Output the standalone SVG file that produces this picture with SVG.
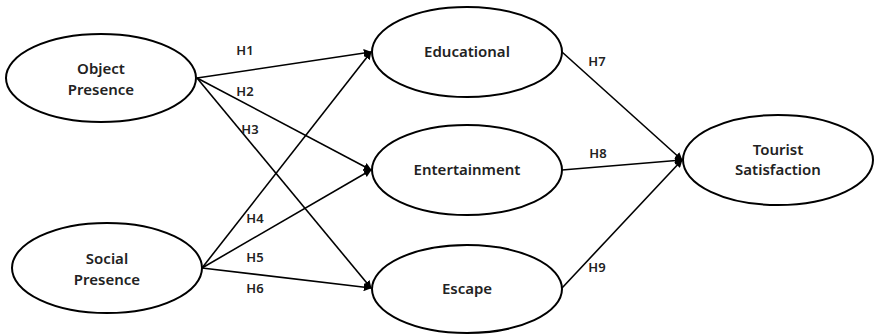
<svg xmlns="http://www.w3.org/2000/svg" width="874" height="336" viewBox="0 0 874 336">
<style>
.n{fill:#fff;stroke:#000;stroke-width:2}
.t{font-family:"Noto Sans","Open Sans",sans-serif;font-size:15px;font-weight:600;fill:#222;text-anchor:middle}
.l{font-family:"Noto Sans","Open Sans",sans-serif;font-size:13px;font-weight:600;fill:#222;text-anchor:middle}
.c{stroke:#000;stroke-width:1.6;fill:none;marker-end:url(#a)}
</style>
<defs>
<marker id="a" viewBox="0 0 10 10" refX="9" refY="5" markerWidth="8" markerHeight="8" markerUnits="userSpaceOnUse" orient="auto">
<path d="M0,0 L10,5 L0,10 z" fill="#000"/>
</marker>
</defs>
<rect width="874" height="336" fill="#fff"/>
<g id="connectors">
<line class="c" x1="197" y1="78" x2="371" y2="52"/>
<line class="c" x1="197" y1="78" x2="371" y2="170"/>
<line class="c" x1="197" y1="78" x2="371" y2="288"/>
<line class="c" x1="202" y1="268" x2="371" y2="52"/>
<line class="c" x1="202" y1="268" x2="371" y2="170"/>
<line class="c" x1="202" y1="268" x2="371" y2="288"/>
<line class="c" x1="562" y1="52" x2="682" y2="160"/>
<line class="c" x1="562" y1="170" x2="682" y2="160"/>
<line class="c" x1="562" y1="288" x2="682" y2="160"/>
<text class="l" x="245" y="55">H1</text>
<text class="l" x="245" y="96">H2</text>
<text class="l" x="250" y="134">H3</text>
<text class="l" x="255" y="223">H4</text>
<text class="l" x="255" y="262">H5</text>
<text class="l" x="255" y="293">H6</text>
<text class="l" x="597" y="66">H7</text>
<text class="l" x="598" y="158">H8</text>
<text class="l" x="597" y="272">H9</text>
</g>
<g id="object-presence">
<ellipse class="n" cx="101" cy="78" rx="95" ry="44"/>
<text class="t" x="101" y="74">Object</text>
<text class="t" x="101" y="95">Presence</text>
</g>
<g id="social-presence">
<ellipse class="n" cx="107" cy="268" rx="95" ry="45"/>
<text class="t" x="107" y="264">Social</text>
<text class="t" x="107" y="285">Presence</text>
</g>
<g id="educational">
<ellipse class="n" cx="467" cy="52" rx="95" ry="45"/>
<text class="t" x="467" y="57">Educational</text>
</g>
<g id="entertainment">
<ellipse class="n" cx="467" cy="170" rx="95" ry="45"/>
<text class="t" x="467" y="175">Entertainment</text>
</g>
<g id="escape">
<ellipse class="n" cx="467" cy="289" rx="95" ry="44"/>
<text class="t" x="467" y="294">Escape</text>
</g>
<g id="tourist-satisfaction">
<ellipse class="n" cx="778" cy="160" rx="95" ry="45"/>
<text class="t" x="778" y="155">Tourist</text>
<text class="t" x="778" y="175">Satisfaction</text>
</g>
</svg>
